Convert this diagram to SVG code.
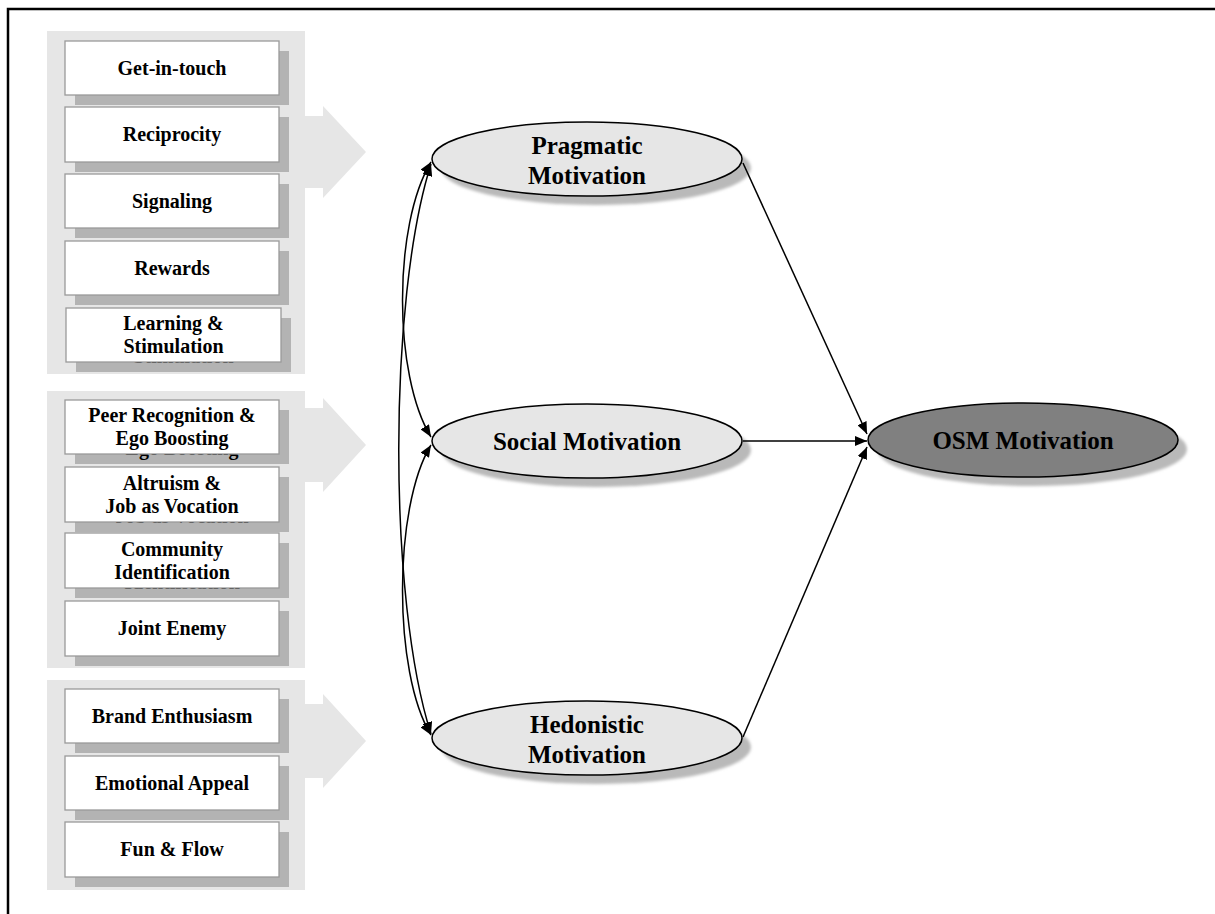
<svg xmlns="http://www.w3.org/2000/svg" width="1215" height="914" viewBox="0 0 1215 914">
  <style>
    .panel { fill: #e6e6e6; }
    .bigarrow { fill: #e6e6e6; }
    .box { fill: #ffffff; stroke: #9a9a9a; stroke-width: 1.3; }
    .boxshadow { fill: #b3b3b3; }
    .ghost { fill: #a2a2a2; }
    .lbl { font-family: "Liberation Serif", "Times New Roman", serif; font-weight: bold; font-size: 20px; text-anchor: middle; fill: #000; }
    .elbl { font-family: "Liberation Serif", "Times New Roman", serif; font-weight: bold; font-size: 25px; text-anchor: middle; fill: #000; }
    .ell { fill: #e6e6e6; stroke: #000; stroke-width: 1.5; }
    .ellout { fill: #808080; stroke: #000; stroke-width: 1.5; }
    .eshadow { fill: #b9b9b9; }
    .conn { fill: none; stroke: #000; stroke-width: 1.5; }
    .frame { fill: none; stroke: #000; stroke-width: 2.5; }
  </style>
  <defs>
    <marker id="head" markerUnits="userSpaceOnUse" markerWidth="13" markerHeight="10" refX="12" refY="5" orient="auto-start-reverse">
      <path d="M0,0 L12,5 L0,10 Z" fill="#000"/>
    </marker>
    <filter id="soft" x="-10%" y="-20%" width="120%" height="140%">
      <feGaussianBlur stdDeviation="1.5"/>
    </filter>
  </defs>

  <!-- partial page frame -->
  <path class="frame" d="M8,914 V9 H1215"/>

  <!-- wide group arrows pointing at the motivation ellipses -->
  <g id="group-arrows">
    <polygon class="bigarrow" points="295,116 323,116 323,106 366,152 323,198 323,188 295,188"/>
    <polygon class="bigarrow" points="295,408 323,408 323,398 366,445 323,492 323,482 295,482"/>
    <polygon class="bigarrow" points="295,704 323,704 323,694 366,741 323,788 323,778 295,778"/>
  </g>

  <!-- factor panels -->
  <rect id="panel-pragmatic" class="panel" x="47" y="31" width="258" height="343"/>
  <rect id="panel-social" class="panel" x="47" y="391" width="258" height="277"/>
  <rect id="panel-hedonistic" class="panel" x="47" y="680" width="258" height="210"/>

  <!-- factor boxes: drop shadow offset by 10,10; on two-line boxes the
       shadow carries a copy of the second line that peeks out below -->
  <g id="get-in-touch">
    <rect class="boxshadow" x="75" y="51" width="214" height="54"/>
    <rect class="box" x="65" y="41" width="214" height="54"/>
    <text class="lbl" x="172" y="75">Get-in-touch</text>
  </g>
  <g id="reciprocity">
    <rect class="boxshadow" x="75" y="117" width="214" height="55"/>
    <rect class="box" x="65" y="107" width="214" height="55"/>
    <text class="lbl" x="172" y="141">Reciprocity</text>
  </g>
  <g id="signaling">
    <rect class="boxshadow" x="75" y="184" width="214" height="54"/>
    <rect class="box" x="65" y="174" width="214" height="54"/>
    <text class="lbl" x="172" y="208">Signaling</text>
  </g>
  <g id="rewards">
    <rect class="boxshadow" x="75" y="251" width="214" height="54"/>
    <rect class="box" x="65" y="241" width="214" height="54"/>
    <text class="lbl" x="172" y="275">Rewards</text>
  </g>
  <g id="learning-stimulation">
    <g transform="translate(10,10)"><rect class="boxshadow" x="66" y="308" width="215" height="54"/><text class="lbl ghost" x="173.5" y="353">Stimulation</text></g>
    <rect class="box" x="66" y="308" width="215" height="54"/>
    <text class="lbl" x="173.5" y="330">Learning &amp;</text>
    <text class="lbl" x="173.5" y="353">Stimulation</text>
  </g>

  <g id="peer-recognition">
    <g transform="translate(10,10)"><rect class="boxshadow" x="65" y="400" width="214" height="54"/><text class="lbl ghost" x="172" y="445">Ego Boosting</text></g>
    <rect class="box" x="65" y="400" width="214" height="54"/>
    <text class="lbl" x="172" y="422">Peer Recognition &amp;</text>
    <text class="lbl" x="172" y="445">Ego Boosting</text>
  </g>
  <g id="altruism">
    <g transform="translate(10,10)"><rect class="boxshadow" x="65" y="467" width="214" height="55"/><text class="lbl ghost" x="172" y="513">Job as Vocation</text></g>
    <rect class="box" x="65" y="467" width="214" height="55"/>
    <text class="lbl" x="172" y="490">Altruism &amp;</text>
    <text class="lbl" x="172" y="513">Job as Vocation</text>
  </g>
  <g id="community-identification">
    <g transform="translate(10,10)"><rect class="boxshadow" x="65" y="533" width="214" height="55"/><text class="lbl ghost" x="172" y="579">Identification</text></g>
    <rect class="box" x="65" y="533" width="214" height="55"/>
    <text class="lbl" x="172" y="556">Community</text>
    <text class="lbl" x="172" y="579">Identification</text>
  </g>
  <g id="joint-enemy">
    <rect class="boxshadow" x="75" y="611" width="214" height="55"/>
    <rect class="box" x="65" y="601" width="214" height="55"/>
    <text class="lbl" x="172" y="635">Joint Enemy</text>
  </g>

  <g id="brand-enthusiasm">
    <rect class="boxshadow" x="75" y="699" width="214" height="54"/>
    <rect class="box" x="65" y="689" width="214" height="54"/>
    <text class="lbl" x="172" y="723">Brand Enthusiasm</text>
  </g>
  <g id="emotional-appeal">
    <rect class="boxshadow" x="75" y="766" width="214" height="54"/>
    <rect class="box" x="65" y="756" width="214" height="54"/>
    <text class="lbl" x="172" y="790">Emotional Appeal</text>
  </g>
  <g id="fun-flow">
    <rect class="boxshadow" x="75" y="832" width="214" height="55"/>
    <rect class="box" x="65" y="822" width="214" height="55"/>
    <text class="lbl" x="172" y="856">Fun &amp; Flow</text>
  </g>

  <!-- motivation constructs -->
  <g id="pragmatic-motivation">
    <ellipse class="eshadow" cx="596" cy="168" rx="155" ry="37" filter="url(#soft)"/>
    <ellipse class="ell" cx="587" cy="159" rx="155" ry="37"/>
    <text class="elbl" x="587" y="154">Pragmatic</text>
    <text class="elbl" x="587" y="184">Motivation</text>
  </g>
  <g id="social-motivation">
    <ellipse class="eshadow" cx="596" cy="450" rx="155" ry="37" filter="url(#soft)"/>
    <ellipse class="ell" cx="587" cy="441" rx="155" ry="37"/>
    <text class="elbl" x="587" y="450">Social Motivation</text>
  </g>
  <g id="hedonistic-motivation">
    <ellipse class="eshadow" cx="596" cy="747" rx="155" ry="37" filter="url(#soft)"/>
    <ellipse class="ell" cx="587" cy="738" rx="155" ry="37"/>
    <text class="elbl" x="587" y="733">Hedonistic</text>
    <text class="elbl" x="587" y="763">Motivation</text>
  </g>
  <g id="osm-motivation">
    <ellipse class="eshadow" cx="1032" cy="449" rx="155" ry="37" filter="url(#soft)"/>
    <ellipse class="ellout" cx="1023" cy="440" rx="155" ry="37"/>
    <text class="elbl" x="1023" y="449">OSM Motivation</text>
  </g>

  <!-- paths and correlations -->
  <g id="connectors">
    <path class="conn" d="M431,162 C393,225 393,375 431,437" marker-start="url(#head)" marker-end="url(#head)"/>
    <path class="conn" d="M431,445 C393,507 393,673 431,735" marker-start="url(#head)" marker-end="url(#head)"/>
    <path class="conn" d="M431,164 C388,300 388,600 431,734" marker-start="url(#head)" marker-end="url(#head)"/>
    <path class="conn" d="M743,163 L867,434" marker-end="url(#head)"/>
    <path class="conn" d="M743,441 L867,441" marker-end="url(#head)"/>
    <path class="conn" d="M743,737 L867,447" marker-end="url(#head)"/>
  </g>
</svg>
